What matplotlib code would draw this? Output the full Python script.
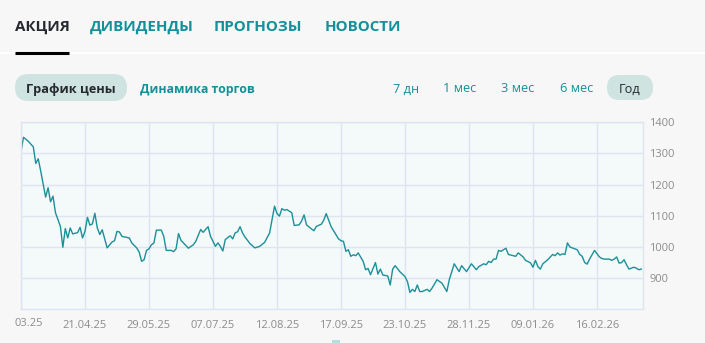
import matplotlib.pyplot as plt
from matplotlib.patches import FancyBboxPatch, Rectangle

# trading-day index (26 per tick) and closing price
days = [0, 1, 3, 5, 6, 7, 8, 10, 11, 12, 13, 14, 16, 17, 18, 19, 20, 21, 23, 24,
        25, 26, 27, 28, 29, 30, 31, 32, 33, 35, 37, 38, 39, 40, 41, 44, 45, 47, 48, 49,
        50, 51, 52, 53, 54, 55, 57, 58, 59, 61, 62, 63, 64, 65, 66, 68, 70, 71, 73, 74,
        76, 77, 79, 80, 81, 82, 83, 85, 86, 87, 88, 89, 90, 91, 93, 94, 95, 97, 99, 101,
        102, 103, 104, 105, 106, 107, 108, 110, 111, 113, 114, 115, 116, 118, 119, 120, 122, 123, 124, 125,
        126, 127, 129, 130, 131, 132, 133, 134, 135, 136, 137, 139, 140, 141, 142, 144, 145, 146, 147, 149,
        150, 151, 152, 154, 156, 157, 158, 159, 160, 161, 162, 163, 165, 166, 167, 169, 171, 173, 174, 176,
        178, 179, 181, 183, 185, 186, 188, 189, 190, 191, 192, 193, 194, 195, 197, 198, 200, 201, 202, 204,
        205, 207, 208, 209, 210, 211, 212, 214, 216, 217, 218, 219, 220, 221, 222, 223, 225, 226, 227, 228,
        229, 230, 231, 233, 235, 236, 237, 239, 240, 241, 242, 243, 244, 245, 246, 247, 249, 250, 251, 252]
price = [1306, 1352, 1339, 1321, 1268, 1283, 1244, 1160, 1190, 1145, 1163, 1110, 1066, 999, 1059, 1029, 1061, 1042, 1046, 1063,
         1029, 1050, 1095, 1070, 1074, 1108, 1061, 1040, 1055, 997, 1016, 1020, 1050, 1048, 1034, 1029, 1013, 997, 984, 954,
         959, 989, 994, 1007, 1013, 1054, 1054, 1034, 989, 989, 985, 994, 1043, 1021, 1013, 996, 1007, 1018, 1056, 1047,
         1065, 1034, 1002, 1013, 1002, 987, 1024, 1036, 1026, 1045, 1049, 1065, 1045, 1032, 1011, 1004, 997, 1002, 1015, 1045,
         1088, 1131, 1107, 1099, 1123, 1118, 1120, 1110, 1069, 1071, 1083, 1103, 1071, 1058, 1052, 1066, 1073, 1086, 1107, 1086,
         1065, 1052, 1026, 1020, 1018, 986, 991, 970, 975, 972, 981, 954, 927, 931, 911, 950, 913, 929, 910, 907,
         878, 929, 940, 920, 905, 889, 854, 864, 857, 878, 857, 857, 864, 857, 868, 895, 884, 857, 895, 946,
         921, 940, 921, 946, 927, 937, 946, 943, 954, 950, 961, 961, 989, 986, 996, 976, 972, 970, 981, 968,
         957, 949, 935, 957, 937, 929, 946, 959, 976, 972, 981, 974, 978, 976, 1013, 1000, 994, 991, 976, 970,
         950, 945, 961, 989, 968, 963, 961, 961, 957, 961, 968, 948, 950, 959, 943, 929, 935, 932, 927, 929]

tick_days = [0, 26, 52, 78, 104, 130, 156, 182, 208, 234]
tick_labels = ['', '21.04.25', '29.05.25', '07.07.25', '12.08.25', '17.09.25',
               '23.10.25', '28.11.25', '09.01.26', '16.02.26']
y_ticks = [900, 1000, 1100, 1200, 1300, 1400]

tabs = ['АКЦИЯ', 'ДИВИДЕНДЫ', 'ПРОГНОЗЫ', 'НОВОСТИ']
periods = ['7 дн', '1 мес', '3 мес', '6 мес', 'Год']

BG = '#f7f7f7'
TEAL = '#13909a'
LINE = '#1b9098'
GRID = '#dfe4f1'
PILL = '#cfe3e1'
DARK = '#262a30'
GRAY = '#8c8c8c'
FONT = ['Open Sans', 'DejaVu Sans']

W, H = 705, 343
fig = plt.figure(figsize=(W / 100, H / 100), dpi=100, facecolor=BG)

# overlay in pixel units for the header and buttons
bg = fig.add_axes([0, 0, 1, 1])
bg.set_xlim(0, W)
bg.set_ylim(H, 0)
bg.axis('off')

tab_x = [15, 90, 214, 325]
for i, (t, x) in enumerate(zip(tabs, tab_x)):
    bg.text(x, 31, t, fontsize=10.9, fontweight='bold', family=FONT,
            color=DARK if i == 0 else TEAL, ha='left', va='baseline')
bg.plot([0, W], [53, 53], color='white', lw=1.3, solid_capstyle='butt')
bg.plot([15, 69], [52.6, 52.6], color='black', lw=2.2, solid_capstyle='butt')

# price / volume toggle
bg.add_patch(FancyBboxPatch((15, 74), 112, 27, boxstyle='round,pad=0,rounding_size=13.5',
                            fc=PILL, ec='none'))
bg.text(71, 92.5, 'График цены', fontsize=9.2, fontweight='bold', family=FONT,
        color=DARK, ha='center', va='baseline')
bg.text(140, 92.5, 'Динамика торгов', fontsize=8.8, fontweight='bold', family=FONT,
        color=TEAL, ha='left', va='baseline')

# period buttons
bg.add_patch(FancyBboxPatch((607, 75), 46, 25, boxstyle='round,pad=0,rounding_size=12.5',
                            fc=PILL, ec='none'))
period_x = [406.5, 459.5, 517.5, 577, 630]
for p, x in zip(periods, period_x):
    bg.text(x, 92.4, p, fontsize=9.2, family=FONT, ha='center', va='baseline',
            color=DARK if p == 'Год' else TEAL)

# small scroll marker under the chart
bg.add_patch(Rectangle((332, 339.5), 8, 3.5, fc='#b3dfdf', ec='none'))

# clipped first date label
bg.text(43, 323.5, '03.25', fontsize=8, family=FONT, color=GRAY, ha='right', va='center')

# price chart
ax = fig.add_axes([21 / W, 1 - 309.3 / H, 622 / W, 187 / H])
ax.set_facecolor('#f4f9fa')
ax.plot(days, price, color=LINE, lw=1.0)
ax.set_xlim(0, 252.7)
ax.set_ylim(800, 1400)
ax.set_xticks(tick_days)
ax.set_xticklabels(tick_labels)
ax.set_yticks(y_ticks)
ax.yaxis.tick_right()
ax.grid(True, color=GRID, lw=1.0)
ax.set_axisbelow(True)
for s in ax.spines.values():
    s.set_color(GRID)
    s.set_linewidth(1.0)
ax.tick_params(axis='both', length=0, colors=GRAY, labelsize=8)
ax.tick_params(axis='x', pad=7.5)
ax.tick_params(axis='y', pad=4.5)
for lab in ax.get_xticklabels() + ax.get_yticklabels():
    lab.set_family(FONT)

fig.savefig('out.png', dpi=100, facecolor=BG)
